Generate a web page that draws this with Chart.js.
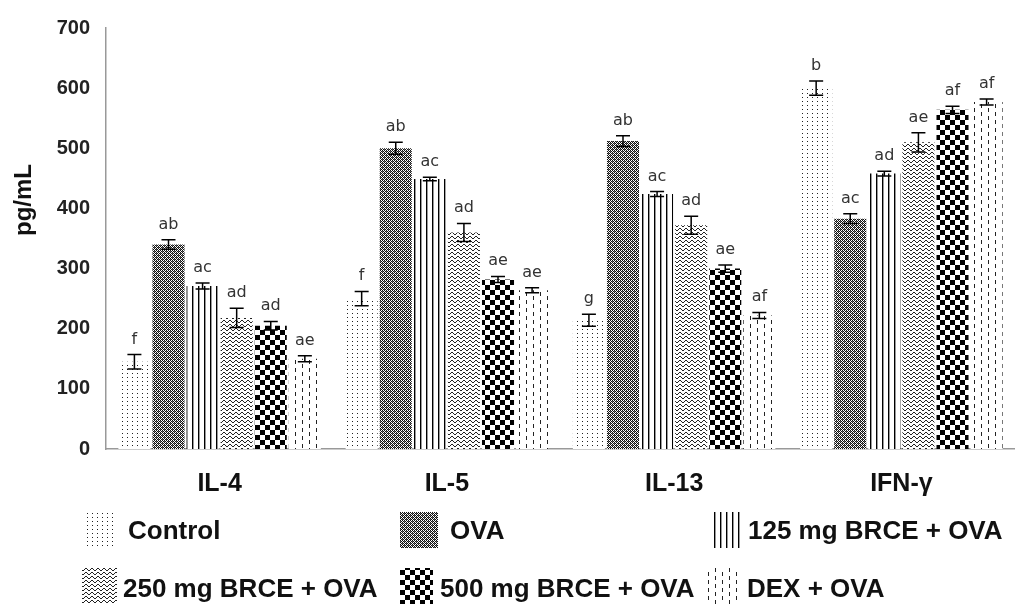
<!DOCTYPE html>
<html>
<head>
<meta charset="utf-8">
<script src="https://cdn.jsdelivr.net/npm/chart.js@4"></script>
<style>
html,body{margin:0;padding:0;background:#fff;}
#wrap{width:1015px;height:604px;position:relative;}
</style>
</head>
<body>
<div id="wrap"><canvas id="c" width="1015" height="604"></canvas></div>
<script>
const categories = ['IL-4', 'IL-5', 'IL-13', 'IFN-γ'];
const seriesNames = ['Control', 'OVA', '125 mg BRCE + OVA', '250 mg BRCE + OVA', '500 mg BRCE + OVA', 'DEX + OVA'];

const controlValues = [145, 250, 214, 600];
const ovaValues     = [340, 500, 512, 383];
const mg125Values   = [271, 449, 424, 458];
const mg250Values   = [218, 360, 372, 510];
const mg500Values   = [205, 282, 300, 564];
const dexValues     = [150, 264, 222, 577];

const controlErr = [12, 12, 10, 12];
const ovaErr     = [8, 10, 9, 8];
const mg125Err   = [5, 3, 4, 4];
const mg250Err   = [16, 15, 15, 16];
const mg500Err   = [7, 5, 6, 6];
const dexErr     = [5, 4, 5, 5];

const controlLetters = ['f', 'f', 'g', 'b'];
const ovaLetters     = ['ab', 'ab', 'ab', 'ac'];
const mg125Letters   = ['ac', 'ac', 'ac', 'ad'];
const mg250Letters   = ['ad', 'ad', 'ad', 'ae'];
const mg500Letters   = ['ad', 'ae', 'ae', 'af'];
const dexLetters     = ['ae', 'ae', 'af', 'af'];

const yTicks = [0, 100, 200, 300, 400, 500, 600, 700];

// ---- patterns ----
function makePattern(w, h, drawFn) {
  const c = document.createElement('canvas');
  c.width = w; c.height = h;
  const g = c.getContext('2d');
  g.fillStyle = '#fff';
  g.fillRect(0, 0, w, h);
  drawFn(g);
  return document.getElementById('c').getContext('2d').createPattern(c, 'repeat');
}
function px(g, pts, col) { g.fillStyle = col || '#000'; pts.forEach(p => g.fillRect(p[0], p[1], 1, 1)); }

const patDots = makePattern(5, 4, g => px(g, [[2, 1]], '#222'));
const patOva = makePattern(4, 4, g => {
  g.fillStyle = '#111'; g.fillRect(0, 0, 4, 4);
  px(g, [[1, 0], [3, 2], [0, 1], [2, 1], [2, 3], [0, 3]], '#fff');
  px(g, [[1, 2], [3, 0]], '#fff');
  px(g, [[0,1],[2,3]], '#666');
});
const patVert = makePattern(6, 1, g => { px(g, [[0, 0]], '#000'); px(g, [[1, 0]], '#999'); });
const patWave = makePattern(6, 4, g => px(g, [[0, 1], [1, 0], [2, 0], [3, 1], [4, 2], [5, 2]], '#222'));
const patChecker = makePattern(10, 10, g => {
  g.fillStyle = '#000'; g.fillRect(0, 0, 5, 5); g.fillRect(5, 5, 5, 5);
});
const patDash = makePattern(14, 8, g => {
  g.fillStyle = '#222';
  g.fillRect(1, 0, 1, 4);
  g.fillRect(8, 4, 1, 4);
});

const patterns = [patDots, patOva, patVert, patWave, patChecker, patDash];
const valueSets = [controlValues, ovaValues, mg125Values, mg250Values, mg500Values, dexValues];
const errSets = [controlErr, ovaErr, mg125Err, mg250Err, mg500Err, dexErr];
const letterSets = [controlLetters, ovaLetters, mg125Letters, mg250Letters, mg500Letters, dexLetters];

const datasets = seriesNames.map((name, i) => ({
  label: name,
  data: valueSets[i],
  errors: errSets[i],
  letters: letterSets[i],
  backgroundColor: patterns[i],
  borderWidth: 0,
  categoryPercentage: 0.9,
  barPercentage: 0.94
}));

const FONT = '"Liberation Sans", Arial, sans-serif';

const bgPlugin = {
  id: 'bg',
  beforeDraw(chart) {
    const ctx = chart.ctx;
    ctx.save(); ctx.fillStyle = '#fff'; ctx.fillRect(0, 0, chart.width, chart.height); ctx.restore();
  }
};

const errPlugin = {
  id: 'errbars',
  afterDatasetsDraw(chart) {
    const ctx = chart.ctx;
    const y = chart.scales.y;
    chart.data.datasets.forEach((ds, di) => {
      const meta = chart.getDatasetMeta(di);
      meta.data.forEach((el, i) => {
        const v = ds.data[i], e = ds.errors[i];
        const top = y.getPixelForValue(v + e);
        const bot = y.getPixelForValue(v - e);
        ctx.save();
        ctx.strokeStyle = '#000';
        ctx.lineWidth = 1.5;
        ctx.beginPath();
        ctx.moveTo(el.x, top); ctx.lineTo(el.x, bot);
        ctx.moveTo(el.x - 7, top); ctx.lineTo(el.x + 7, top);
        ctx.moveTo(el.x - 7, bot); ctx.lineTo(el.x + 7, bot);
        ctx.stroke();
        ctx.fillStyle = '#333';
        ctx.font = '16px "DejaVu Sans", sans-serif';
        ctx.textAlign = 'center';
        ctx.textBaseline = 'alphabetic';
        ctx.fillText(ds.letters[i], el.x, top - 11);
        ctx.restore();
      });
    });
  }
};

const titleLegendPlugin = {
  id: 'titleLegend',
  afterDraw(chart) {
    const ctx = chart.ctx;
    ctx.save();
    // y axis title
    ctx.translate(24, 200);
    ctx.rotate(-Math.PI / 2);
    ctx.font = 'bold 24px ' + FONT;
    ctx.fillStyle = '#111';
    ctx.textAlign = 'center';
    ctx.textBaseline = 'middle';
    ctx.fillText('pg/mL', 0, 0);
    ctx.restore();

    // legend (Excel-like 3 x 2 grid)
    const slots = [
      { bx: 85, by: 512, bw: 30, bh: 36, tx: 128, ty: 532 },
      { bx: 400, by: 512, bw: 38, bh: 36, tx: 450, ty: 532 },
      { bx: 710, by: 512, bw: 33, bh: 36, tx: 748, ty: 532 },
      { bx: 82, by: 568, bw: 35, bh: 36, tx: 123, ty: 590 },
      { bx: 400, by: 568, bw: 33, bh: 36, tx: 440, ty: 590 },
      { bx: 707, by: 568, bw: 31, bh: 36, tx: 747, ty: 590 }
    ];
    chart.data.datasets.forEach((ds, i) => {
      const s = slots[i];
      ctx.save();
      ctx.fillStyle = ds.backgroundColor;
      ctx.fillRect(s.bx, s.by, s.bw, s.bh);
      ctx.fillStyle = '#111';
      ctx.font = 'bold 26px ' + FONT;
      ctx.textAlign = 'left';
      ctx.textBaseline = 'middle';
      ctx.fillText(ds.label, s.tx, s.ty);
      ctx.restore();
    });
  }
};

new Chart(document.getElementById('c'), {
  type: 'bar',
  data: { labels: categories, datasets },
  options: {
    responsive: false,
    animation: false,
    layout: { padding: { top: 25, right: 0, left: 0, bottom: 0 } },
    plugins: { legend: { display: false }, tooltip: { enabled: false } },
    scales: {
      x: {
        grid: { display: false, drawTicks: false },
        border: { display: true, color: '#999', width: 1.5 },
        ticks: { color: '#111', font: { family: FONT, weight: 'bold', size: 25 }, padding: 20 },
        afterFit(scale) { scale.height = 155; }
      },
      y: {
        min: 0, max: 700,
        afterBuildTicks(scale) { scale.ticks = yTicks.map(v => ({ value: v })); },
        grid: { display: false, drawTicks: false },
        border: { display: true, color: '#999', width: 1.5 },
        ticks: { color: '#222', font: { family: FONT, weight: 'bold', size: 20 }, padding: 16 },
        afterFit(scale) { scale.width = 106; }
      }
    }
  },
  plugins: [bgPlugin, errPlugin, titleLegendPlugin]
});
</script>
</body>
</html>
